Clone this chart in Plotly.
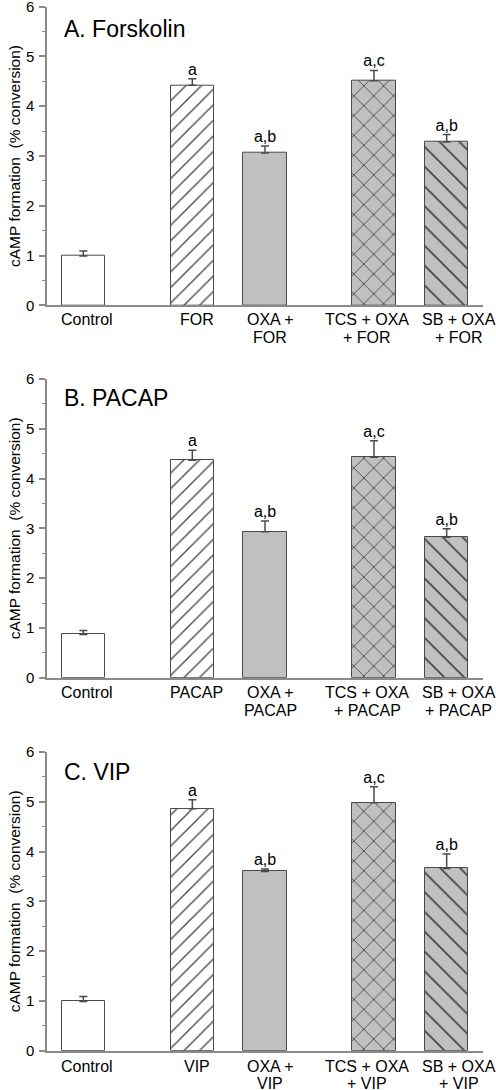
import plotly.graph_objects as go

# ---- data ----
x_pos = [0, 1.5, 2.5, 4, 5]

labels_A = ["Control", "FOR", "OXA +<br>FOR", "TCS + OXA<br>+ FOR", "SB + OXA<br>+ FOR"]
values_A = [0.99, 4.42, 3.06, 4.51, 3.28]
errors_A = [0.10, 0.13, 0.14, 0.21, 0.15]
sig_A = ["", "a", "a,b", "a,c", "a,b"]

labels_B = ["Control", "PACAP", "OXA +<br>PACAP", "TCS + OXA<br>+ PACAP", "SB + OXA<br>+ PACAP"]
values_B = [0.87, 4.37, 2.93, 4.43, 2.82]
errors_B = [0.08, 0.20, 0.22, 0.33, 0.17]
sig_B = ["", "a", "a,b", "a,c", "a,b"]

labels_C = ["Control", "VIP", "OXA +<br>VIP", "TCS + OXA<br>+ VIP", "SB + OXA<br>+ VIP"]
values_C = [0.99, 4.86, 3.60, 4.98, 3.66]
errors_C = [0.10, 0.18, 0.05, 0.32, 0.29]
sig_C = ["", "a", "a,b", "a,c", "a,b"]

titles = ["A. Forskolin", "B. PACAP", "C. VIP"]
y_title = "cAMP formation  (% conversion)"

# ---- styles ----
FONT = "Liberation Sans, Arial, sans-serif"
GREY = "#c0c0c0"
EDGE = "#4a4a4a"
AXIS = "#8a8a8a"
bar_colors = ["white", "white", GREY, GREY, GREY]
shapes = ["", "/", "", "x", "\\"]
pat_sizes = [10, 11, 10, 14, 14]
label_xshift = [3.5, 4.5, 5, -7, 12]
label_yshift = [(-14.5, -32.5), (-14.5, -32.5), (-15.5, -33)]

W, H = 496, 1090
x0_px, x1_px = 47, 483
panels_px = [(6.7, 305.3), (379.0, 677.7), (752.0, 1050.7)]
title_y = [0.925, 0.937, 0.932]

fig = go.Figure()
datasets = [(labels_A, values_A, errors_A, sig_A),
            (labels_B, values_B, errors_B, sig_B),
            (labels_C, values_C, errors_C, sig_C)]

for i, (labs, vals, errs, sig) in enumerate(datasets):
    xa = "x" if i == 0 else f"x{i+1}"
    ya = "y" if i == 0 else f"y{i+1}"
    fig.add_trace(go.Bar(
        x=x_pos, y=vals, width=0.6, xaxis=xa, yaxis=ya,
        marker=dict(color=bar_colors,
                    line=dict(color=EDGE, width=1),
                    pattern=dict(shape=shapes, fillmode="overlay",
                                 bgcolor=bar_colors, fgcolor="#262626",
                                 fgopacity=1, size=pat_sizes, solidity=0.12)),
        error_y=dict(type="data", symmetric=False, array=errs,
                     arrayminus=[0] * len(errs), color=EDGE,
                     thickness=1.5, width=4),
        showlegend=False, hoverinfo="skip"))
    fig.add_trace(go.Scatter(
        x=x_pos, y=[v + e for v, e in zip(vals, errs)], mode="text",
        text=sig, textposition="top center", xaxis=xa, yaxis=ya,
        textfont=dict(family=FONT, size=16, color="black"),
        showlegend=False, hoverinfo="skip", cliponaxis=False))

    top, bot = panels_px[i]
    xkey = "xaxis" if i == 0 else f"xaxis{i+1}"
    ykey = "yaxis" if i == 0 else f"yaxis{i+1}"
    fig.layout[xkey] = dict(
        domain=[x0_px / W, x1_px / W], range=[-0.5, 5.5], anchor=ya,
        tickvals=x_pos, showticklabels=False, ticks="", showgrid=False,
        automargin=False, zeroline=False, showline=True, linecolor=AXIS,
        linewidth=1.5, fixedrange=True)
    fig.layout[ykey] = dict(
        domain=[1 - bot / H, 1 - top / H], range=[0, 6], anchor=xa,
        tickvals=[0, 1, 2, 3, 4, 5, 6], ticks="outside", ticklen=6,
        tickcolor=AXIS, tickwidth=1.5, ticklabelstandoff=2,
        ticklabeloverflow="allow",
        minor=dict(dtick=0.5, tick0=0, ticks="outside", ticklen=3,
                   tickcolor=AXIS, tickwidth=1),
        showgrid=False, zeroline=False, showline=True, linecolor=AXIS,
        linewidth=1.5, automargin=False, fixedrange=True,
        tickfont=dict(family=FONT, size=15, color="black"),
        title=dict(text=y_title, standoff=1,
                   font=dict(family=FONT, size=15.5, color="black")))
    fig.add_annotation(
        text=titles[i], xref=f"{xa} domain", yref=f"{ya} domain",
        x=(62 - x0_px) / (x1_px - x0_px), y=title_y[i],
        xanchor="left", yanchor="middle", showarrow=False,
        font=dict(family=FONT, size=23, color="black"))
    # category labels under the axis (one annotation per text line)
    for j, lab in enumerate(labs):
        for k, line in enumerate(lab.split("<br>")):
            fig.add_annotation(
                text=line, xref=xa, yref=f"{ya} domain", x=x_pos[j], y=0,
                xanchor="center", yanchor="middle", showarrow=False,
                xshift=label_xshift[j], yshift=label_yshift[i][k],
                font=dict(family=FONT, size=16, color="black"))

fig.update_layout(width=W, height=H, margin=dict(l=0, r=0, t=0, b=0),
                  plot_bgcolor="white", paper_bgcolor="white", bargap=0)
fig.write_html("out.html", config={"displayModeBar": False},
               post_script="document.body.style.margin='0';")
